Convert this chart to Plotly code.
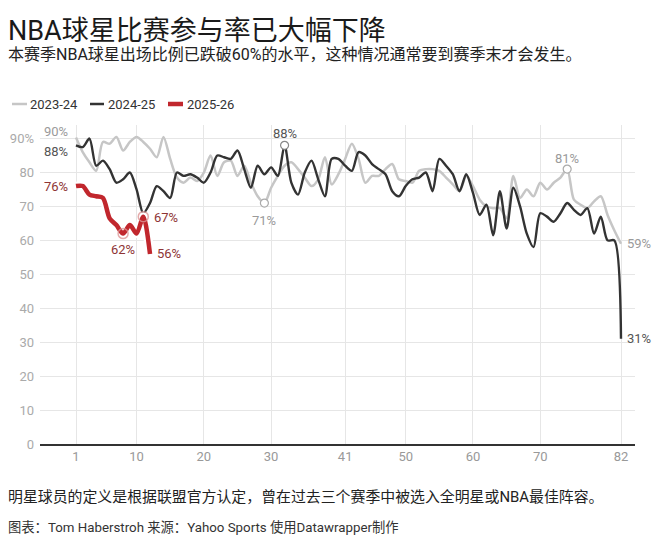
import plotly.graph_objects as go

# NBA star participation rate per game of the season
games = list(range(1, 83))

season_2324 = [90.3, 86, 83, 80.5, 89, 88.5, 90.5, 86.5, 89, 90.5,
               89, 87, 84.5, 90.5, 84, 78.5, 77, 78.5, 77.5, 80,
               85, 79, 83, 83.5, 79, 82, 77, 73, 71, 75.5,
               79, 82, 83, 81, 78.5, 76, 78, 84.5, 76.5, 79.5,
               84, 88.5, 84, 77, 79, 79, 81, 82.5, 78, 77.5,
               77, 80.5, 81, 81, 80.5, 78.5, 76.5, 74.5, 79, 76,
               72, 70, 69.5, 69.5, 66.5, 79, 72.5, 75, 73, 77,
               75, 77, 78.5, 81, 72, 70.5, 69.5, 71.5, 73, 67.5,
               63, 59]

season_2425 = [88, 87.5, 90, 82, 83.5, 81, 77, 78, 80, 75,
               68, 71, 76, 74.5, 72.5, 80, 79, 79.5, 78.5, 77,
               80, 85, 84.5, 84, 86.5, 81, 75.5, 82, 79.5, 81.5,
               79, 88, 77, 73.5, 80, 83.5, 78, 73, 84, 84,
               82, 80.5, 86, 85, 82.5, 81, 79.5, 74.5, 73, 76,
               78, 78.5, 80, 74.5, 84, 82, 79.5, 74.5, 79.5, 74,
               67.5, 70.5, 61.5, 74.5, 63.5, 75.5, 70, 62, 58, 68,
               67, 65.5, 68, 71, 69, 67.5, 69.5, 62, 67, 60,
               60, 31]

season_2526 = [76, 76, 73.5, 73, 72.5, 66.5, 64.5, 62, 64.5, 62, 67, 56]

series_names = ["2023-24", "2024-25", "2025-26"]
x_ticks = [1, 10, 20, 30, 41, 50, 60, 70, 82]
y_ticks = [0, 10, 20, 30, 40, 50, 60, 70, 80, 90]
y_tick_text = ["0", "10", "20", "30", "40", "50", "60", "70", "80", "90%"]

title = "NBA球星比赛参与率已大幅下降"
subtitle = "本赛季NBA球星出场比例已跌破60%的水平，这种情况通常要到赛季末才会发生。"
note = "明星球员的定义是根据联盟官方认定，曾在过去三个赛季中被选入全明星或NBA最佳阵容。"
source = "图表：Tom Haberstroh 来源：Yahoo Sports 使用Datawrapper制作"

GRAY = "#c6c6c6"
DARK = "#333333"
RED = "#c1272d"
FONT = "Roboto, 'Noto Sans CJK SC', sans-serif"

# page is 660x547, the browser puts an 8px body margin round the figure
PAGE_W, PAGE_H, OFF = 660, 547, 8
W, H = PAGE_W - OFF, PAGE_H - OFF
# plot area in page pixels
L, R, T, B = 40, 635, 125, 444


def px_x(X):
    return (X - L) / (R - L)


def px_y(Y):
    return (B - Y) / (B - T)


k = (621 - 76) / 81
x_range = [1 - (76 - L) / k, 82 + (R - 621) / k]

fig = go.Figure()

fig.add_trace(go.Scatter(x=games, y=season_2324, mode="lines",
                         line=dict(color=GRAY, width=2.5, shape="spline", smoothing=0.8),
                         name=series_names[0], hoverinfo="skip"))
fig.add_trace(go.Scatter(x=games, y=season_2425, mode="lines",
                         line=dict(color=DARK, width=2.4, shape="spline", smoothing=0.8),
                         name=series_names[1], hoverinfo="skip"))
# white halo under the current season
fig.add_trace(go.Scatter(x=games[:len(season_2526)], y=season_2526, mode="lines",
                         line=dict(color="white", width=9, shape="spline", smoothing=0.8),
                         hoverinfo="skip"))
fig.add_trace(go.Scatter(x=games[:len(season_2526)], y=season_2526, mode="lines",
                         line=dict(color=RED, width=4.5, shape="spline", smoothing=0.8),
                         name=series_names[2], hoverinfo="skip"))

# highlighted points
gray_pts = [29, 74]
dark_pts = [32]
red_pts = [8, 11]
fig.add_trace(go.Scatter(x=gray_pts, y=[season_2324[g - 1] for g in gray_pts], mode="markers",
                         marker=dict(size=8, color="white", line=dict(color="#aaaaaa", width=1.2)),
                         hoverinfo="skip"))
fig.add_trace(go.Scatter(x=dark_pts, y=[season_2425[g - 1] for g in dark_pts], mode="markers",
                         marker=dict(size=8, color="white", line=dict(color="#888888", width=1.2)),
                         hoverinfo="skip"))
fig.add_trace(go.Scatter(x=red_pts, y=[season_2526[g - 1] for g in red_pts], mode="markers",
                         marker=dict(size=10, color="rgba(255,255,255,0)",
                                     line=dict(color="rgba(220,150,150,0.8)", width=1.5)),
                         hoverinfo="skip"))

annotations = []


def value_label(x, y, color, xanchor="center", xshift=0, yshift=0):
    annotations.append(dict(x=x, y=y, xref="x", yref="y", text=f"{round(y)}%",
                            showarrow=False, xanchor=xanchor, yanchor="middle",
                            xshift=xshift, yshift=yshift,
                            font=dict(family=FONT, size=13, color=color)))


value_label(1, season_2324[0], "#9a9a9a", "right", -6, 6)
value_label(1, season_2425[0], "#555555", "right", -6, -6)
value_label(1, season_2526[0], "#8e3535", "right", -6, 0)
value_label(11, season_2526[10], "#8e3535", "left", 9, -1)
value_label(8, season_2526[7], "#8e3535", "center", 0, -16)
value_label(12, season_2526[11], "#8e3535", "left", 5, 0)
value_label(32, season_2425[31], "#555555", "center", 0, 12)
value_label(29, season_2324[28], "#9a9a9a", "center", 0, -17)
value_label(74, season_2324[73], "#9a9a9a", "center", 0, 11)
value_label(82, season_2324[81], "#9a9a9a", "left", 4, 0)
value_label(82, season_2425[81], "#555555", "left", 4, 0)


def page_text(text, x, y, size, color):
    annotations.append(dict(x=px_x(x), y=px_y(y), xref="paper", yref="paper", text=text,
                            showarrow=False, xanchor="left", yanchor="middle",
                            borderpad=0, borderwidth=0,
                            font=dict(family=FONT, size=size, color=color)))


# title, subtitle and footer
page_text(title, 8, 31, 27, "#1a1a1a")
page_text(subtitle, 8, 54, 16, "#222222")
page_text(note, 8, 497, 14.9, "#222222")
page_text(source, 8, 527, 13.3, "#333333")

# legend drawn by hand
shapes = []
legend_items = [(series_names[0], GRAY, 2.5, 12, 27, 30),
                (series_names[1], DARK, 2.5, 90, 104, 108),
                (series_names[2], RED, 4.5, 168, 183, 187)]
for name, color, width, x0, x1, xt in legend_items:
    shapes.append(dict(type="line", xref="paper", yref="paper",
                       x0=px_x(x0), x1=px_x(x1), y0=px_y(104), y1=px_y(104),
                       line=dict(color=color, width=width)))
    page_text(name, xt, 104, 13, "#333333")

fig.update_layout(
    width=W, height=H, autosize=False,
    margin=dict(l=L - OFF, r=PAGE_W - R, t=T - OFF, b=PAGE_H - B, pad=0),
    paper_bgcolor="white", plot_bgcolor="white",
    showlegend=False,
    annotations=annotations,
    shapes=shapes,
    font=dict(family=FONT),
)
fig.update_xaxes(range=x_range, tickvals=x_ticks, ticks="", showgrid=True,
                 gridcolor="#e6e6e6", gridwidth=1, zeroline=False, automargin=False,
                 showline=True, linecolor="#333333", linewidth=1.5,
                 tickfont=dict(family=FONT, size=13, color="#999999"))
fig.update_yaxes(range=[0, 94], tickvals=y_ticks, ticktext=y_tick_text, ticks="",
                 showgrid=True, gridcolor="#e6e6e6", gridwidth=1, zeroline=False,
                 showline=False, ticklabelstandoff=5, automargin=False,
                 tickfont=dict(family=FONT, size=13, color="#aaaaaa"))

fig.write_html("out.html")
